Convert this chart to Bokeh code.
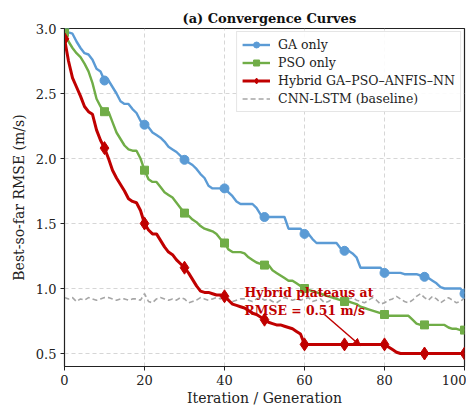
from bokeh.plotting import figure
from bokeh.models import (Range1d, FixedTicker, PrintfTickFormatter, Label, Arrow,
                          NormalHead, Legend, LegendItem, ColumnDataSource)
from bokeh.embed import file_html
from bokeh.resources import INLINE

iterations = list(range(0, 101))

ga_only = [3.00, 2.97, 2.96, 2.90, 2.85, 2.81, 2.80, 2.76, 2.69, 2.67,
           2.60, 2.60, 2.55, 2.50, 2.44, 2.42, 2.42, 2.38, 2.35, 2.29,
           2.26, 2.24, 2.20, 2.18, 2.16, 2.13, 2.09, 2.07, 2.05, 2.02,
           1.99, 1.97, 1.95, 1.92, 1.88, 1.85, 1.79, 1.77, 1.77, 1.77,
           1.77, 1.74, 1.71, 1.67, 1.65, 1.65, 1.65, 1.65, 1.62, 1.57,
           1.55, 1.55, 1.55, 1.55, 1.55, 1.55, 1.46, 1.46, 1.46, 1.46,
           1.42, 1.42, 1.38, 1.35, 1.35, 1.35, 1.35, 1.35, 1.35, 1.31,
           1.29, 1.29, 1.27, 1.24, 1.16, 1.16, 1.16, 1.16, 1.16, 1.16,
           1.12, 1.12, 1.12, 1.12, 1.12, 1.11, 1.11, 1.11, 1.11, 1.10,
           1.09, 1.08, 1.06, 1.04, 1.01, 1.00, 1.00, 1.00, 1.00, 1.00,
           0.96]

pso_only = [2.97, 2.90, 2.85, 2.81, 2.78, 2.73, 2.67, 2.58, 2.46, 2.40,
            2.36, 2.36, 2.28, 2.20, 2.15, 2.10, 2.07, 2.06, 2.06, 2.00,
            1.91, 1.84, 1.82, 1.82, 1.78, 1.74, 1.72, 1.70, 1.66, 1.62,
            1.58, 1.56, 1.53, 1.51, 1.48, 1.46, 1.45, 1.44, 1.42, 1.38,
            1.35, 1.30, 1.28, 1.28, 1.28, 1.27, 1.24, 1.22, 1.20, 1.19,
            1.18, 1.18, 1.14, 1.12, 1.10, 1.08, 1.06, 1.06, 1.04, 1.02,
            1.00, 0.99, 0.98, 0.97, 0.96, 0.95, 0.94, 0.93, 0.92, 0.91,
            0.90, 0.90, 0.89, 0.88, 0.86, 0.85, 0.84, 0.83, 0.82, 0.81,
            0.80, 0.79, 0.79, 0.79, 0.79, 0.79, 0.79, 0.76, 0.73, 0.72,
            0.72, 0.72, 0.72, 0.72, 0.72, 0.72, 0.70, 0.69, 0.69, 0.68,
            0.68]

hybrid = [2.92, 2.75, 2.62, 2.55, 2.48, 2.40, 2.36, 2.34, 2.22, 2.14,
          2.08, 2.00, 1.91, 1.85, 1.80, 1.75, 1.69, 1.67, 1.66, 1.60,
          1.50, 1.45, 1.42, 1.42, 1.37, 1.32, 1.28, 1.26, 1.22, 1.19,
          1.16, 1.12, 1.07, 1.02, 0.98, 0.97, 0.97, 0.96, 0.95, 0.95,
          0.94, 0.91, 0.88, 0.87, 0.86, 0.85, 0.83, 0.81, 0.80, 0.78,
          0.76, 0.74, 0.73, 0.72, 0.72, 0.71, 0.70, 0.69, 0.67, 0.65,
          0.57, 0.57, 0.57, 0.57, 0.57, 0.57, 0.57, 0.57, 0.57, 0.57,
          0.57, 0.57, 0.57, 0.57, 0.57, 0.57, 0.57, 0.57, 0.57, 0.57,
          0.57, 0.55, 0.53, 0.51, 0.50, 0.50, 0.50, 0.50, 0.50, 0.50,
          0.50, 0.50, 0.50, 0.50, 0.50, 0.50, 0.50, 0.50, 0.50, 0.50,
          0.50]

cnn_lstm = [0.93, 0.92, 0.93, 0.90, 0.92, 0.91, 0.93, 0.92, 0.91, 0.92,
            0.93, 0.93, 0.92, 0.91, 0.92, 0.92, 0.91, 0.92, 0.92, 0.91,
            0.96, 0.90, 0.89, 0.92, 0.93, 0.92, 0.91, 0.92, 0.91, 0.93,
            0.92, 0.89, 0.90, 0.91, 0.93, 0.92, 0.91, 0.92, 0.93, 0.92,
            0.94, 0.92, 0.90, 0.91, 0.92, 0.92, 0.91, 0.90, 0.92, 0.93,
            0.91, 0.92, 0.90, 0.89, 0.91, 0.93, 0.92, 0.91, 0.92, 0.91,
            0.92, 0.93, 0.90, 0.91, 0.92, 0.89, 0.90, 0.92, 0.93, 0.91,
            0.90, 0.92, 0.93, 0.91, 0.90, 0.89, 0.91, 0.93, 0.91, 0.88,
            0.89, 0.91, 0.92, 0.94, 0.92, 0.90, 0.89, 0.91, 0.94, 0.96,
            0.93, 0.91, 0.94, 0.92, 0.89, 0.91, 0.93, 0.91, 0.89, 0.90,
            0.93]

x_ticks = [0, 20, 40, 60, 80, 100]
y_ticks = [0.5, 1.0, 1.5, 2.0, 2.5, 3.0]

FONT = "DejaVu Serif"
C_GA = "#5B9BD5"
C_PSO = "#70AD47"
C_HY = "#C00000"
C_BASE = "#A6A6A6"

p = figure(width=466, height=408, output_backend="svg", toolbar_location=None,
           x_range=Range1d(0, 100), y_range=Range1d(0.4, 3.0),
           title="(a) Convergence Curves")
p.min_border_left = 64
p.min_border_right = 2
p.min_border_top = 28
p.min_border_bottom = 40

p.title.text_font = FONT
p.title.text_font_size = "13px"
p.title.text_font_style = "bold"
p.title.align = "left"
p.title.offset = 118
p.title.text_color = "#111111"
p.title.standoff = 6

p.outline_line_color = "#222222"
p.outline_line_width = 1.2

for ax in (p.xaxis[0], p.yaxis[0]):
    ax.major_label_text_font = FONT
    ax.major_label_text_font_size = "13px"
    ax.major_label_text_color = "#222222"
    ax.axis_label_text_font = FONT
    ax.axis_label_text_font_size = "14px"
    ax.axis_label_text_font_style = "normal"
    ax.axis_label_text_color = "#222222"
    ax.axis_line_color = "#222222"
    ax.major_tick_line_color = "#222222"
    ax.major_tick_out = 4
    ax.major_tick_in = 0
    ax.minor_tick_line_color = None
    ax.major_label_standoff = 4

p.xaxis.ticker = FixedTicker(ticks=x_ticks)
p.yaxis.ticker = FixedTicker(ticks=y_ticks)
p.yaxis.formatter = PrintfTickFormatter(format="%.1f")
p.xaxis.axis_label = "Iteration / Generation"
p.yaxis.axis_label = "Best-so-far RMSE (m/s)"
p.xaxis.axis_label_standoff = 2
p.yaxis.axis_label_standoff = 6

p.xgrid.grid_line_color = "#cccccc"
p.ygrid.grid_line_color = "#cccccc"
p.xgrid.grid_line_dash = "4 3"
p.ygrid.grid_line_dash = "4 3"
p.xgrid.grid_line_alpha = 0.8
p.ygrid.grid_line_alpha = 0.8

src = ColumnDataSource(dict(x=iterations, ga=ga_only, pso=pso_only, hy=hybrid, base=cnn_lstm))
msrc = ColumnDataSource(dict(x=iterations[::10], ga=ga_only[::10], pso=pso_only[::10], hy=hybrid[::10]))

base_line = p.line("x", "base", source=src, color=C_BASE, line_width=1.6, line_dash="5 3")
ga_line = p.line("x", "ga", source=src, color=C_GA, line_width=2.4)
ga_mk = p.scatter("x", "ga", source=msrc, marker="circle", size=9, color=C_GA)
pso_line = p.line("x", "pso", source=src, color=C_PSO, line_width=2.4)
pso_mk = p.scatter("x", "pso", source=msrc, marker="square", size=8, color=C_PSO)
hy_line = p.line("x", "hy", source=src, color=C_HY, line_width=3)
hy_mk = p.scatter("x", "hy", source=msrc, marker="diamond", size=13, color=C_HY)

legend = Legend(items=[
    LegendItem(label="GA only", renderers=[ga_line, ga_mk]),
    LegendItem(label="PSO only", renderers=[pso_line, pso_mk]),
    LegendItem(label="Hybrid GA\u2013PSO\u2013ANFIS\u2013NN", renderers=[hy_line, hy_mk]),
    LegendItem(label="CNN-LSTM (baseline)", renderers=[base_line]),
], location="top_right")
legend.label_text_font = FONT
legend.label_text_font_size = "12.5px"
legend.label_text_color = "#222222"
legend.label_height = 15
legend.glyph_height = 15
legend.glyph_width = 28
legend.label_standoff = 8
legend.spacing = 3
legend.padding = 5
legend.margin = 3
legend.border_line_color = "#cccccc"
legend.border_line_width = 1
legend.background_fill_alpha = 0.9
p.add_layout(legend)

ann = Label(x=45, y=1.03, text="Hybrid plateaus at\nRMSE = 0.51 m/s",
            text_font=FONT, text_font_size="12.4px", text_font_style="bold",
            text_color=C_HY, text_baseline="top", text_align="left")
p.add_layout(ann)
p.add_layout(Arrow(x_start=65, y_start=0.80, x_end=74, y_end=0.56,
                   line_color=C_HY, line_width=1.5,
                   end=NormalHead(size=7, fill_color=C_HY, line_color=C_HY)))

open("out.html", "w").write(file_html(p, INLINE))
